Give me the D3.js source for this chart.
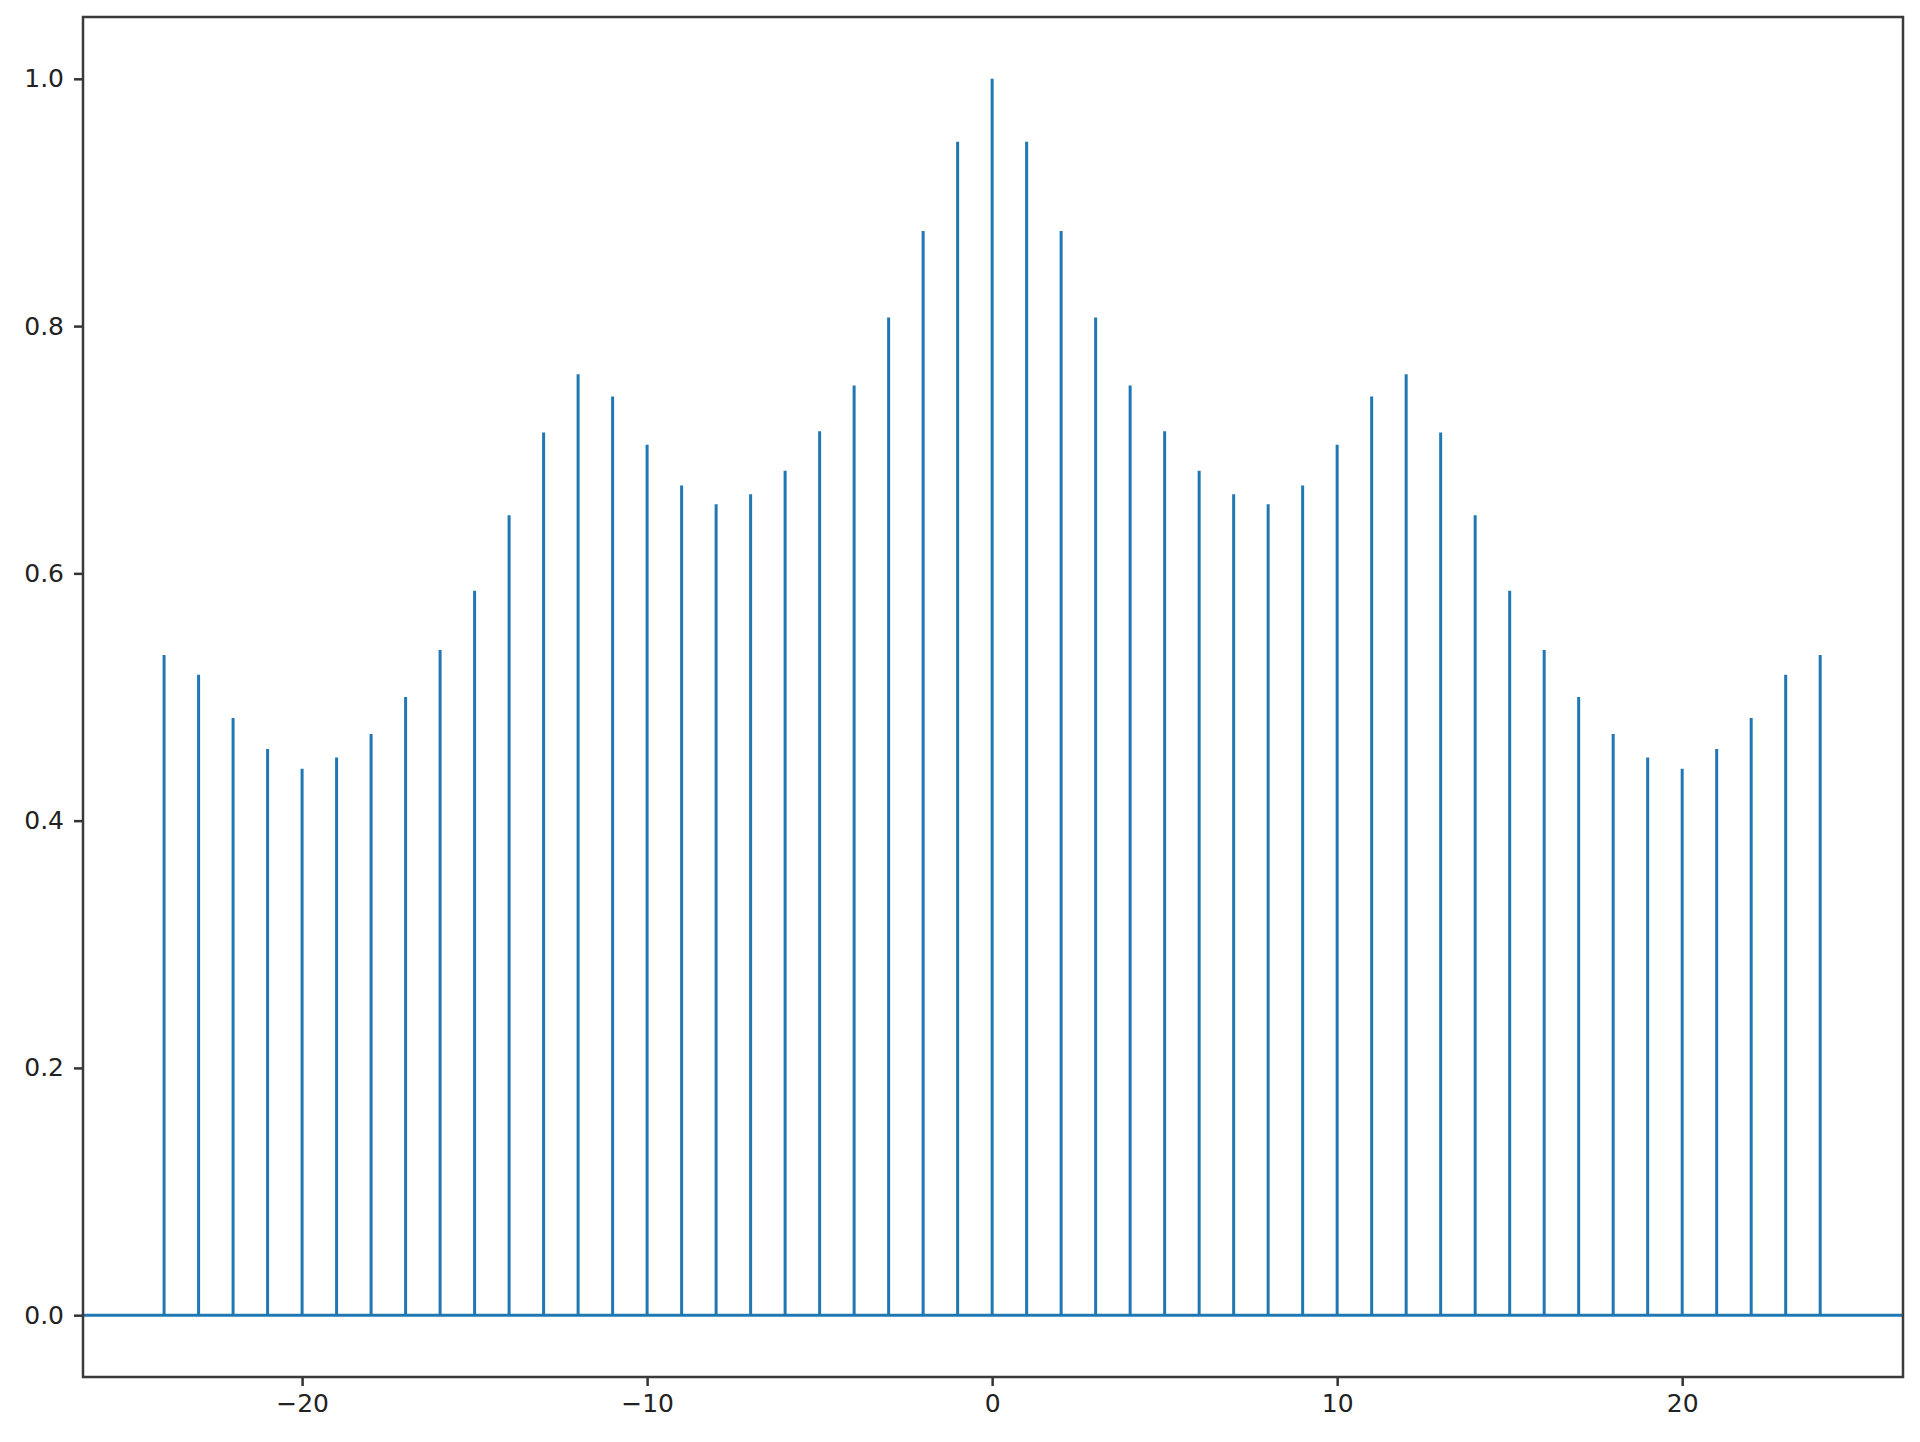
<!DOCTYPE html>
<html>
<head>
<meta charset="utf-8">
<script src="https://cdn.jsdelivr.net/npm/d3@7"></script>
<style>
  body { margin: 0; background: #fff; }
  .axis text { font-family: "DejaVu Sans", sans-serif; font-size: 25px; fill: #222; }
  .axis path { display: none; }
  .axis line { stroke: #333; stroke-width: 2.5; }
</style>
</head>
<body>
<div id="chart"></div>
<script>
var lags = [-24, -23, -22, -21, -20, -19, -18, -17, -16, -15, -14, -13, -12, -11, -10, -9, -8, -7, -6, -5, -4, -3, -2, -1,
  0, 1, 2, 3, 4, 5, 6, 7, 8, 9, 10, 11, 12, 13, 14, 15, 16, 17, 18, 19, 20, 21, 22, 23, 24];
var corr = [0.534, 0.518, 0.483, 0.458, 0.442, 0.451, 0.470, 0.500, 0.538, 0.586, 0.647, 0.714, 0.761, 0.743, 0.704, 0.671,
  0.656, 0.664, 0.683, 0.715, 0.752, 0.807, 0.877, 0.949,
  1.000,
  0.949, 0.877, 0.807, 0.752, 0.715, 0.683, 0.664, 0.656, 0.671, 0.704, 0.743, 0.761, 0.714, 0.647, 0.586,
  0.538, 0.500, 0.470, 0.451, 0.442, 0.458, 0.483, 0.518, 0.534];
var xTicks = [-20, -10, 0, 10, 20];
var yTicks = [0.0, 0.2, 0.4, 0.6, 0.8, 1.0];

var w = 1920, h = 1442;
var padLeft = 83, padRight = 1903, padTop = 17, padBottom = 1377;
var blue = "#1f77b4";

var svg = d3.select("#chart")
  .append("svg")
  .attr("width", w)
  .attr("height", h);

svg.append("rect")
  .attr("width", w)
  .attr("height", h)
  .attr("fill", "#fff");

var x = d3.scaleLinear()
  .domain([-26.35, 26.4])
  .range([padLeft, padRight]);

var y = d3.scaleLinear()
  .domain([-0.05, 1.05])
  .range([padBottom, padTop]);

// stems
svg.append("g")
  .selectAll("line")
  .data(lags)
  .enter()
  .append("line")
  .attr("x1", function(d) { return x(d); })
  .attr("x2", function(d) { return x(d); })
  .attr("y1", y(0))
  .attr("y2", function(d, i) { return y(corr[i]); })
  .attr("stroke", blue)
  .attr("stroke-width", 3);

// baseline at zero
svg.append("line")
  .attr("x1", padLeft)
  .attr("x2", padRight)
  .attr("y1", y(0))
  .attr("y2", y(0))
  .attr("stroke", blue)
  .attr("stroke-width", 3);

var xAxis = d3.axisBottom(x)
  .tickValues(xTicks)
  .tickSize(9)
  .tickPadding(8)
  .tickFormat(function(d) { return d < 0 ? "\u2212" + Math.abs(d) : d; });

var yAxis = d3.axisLeft(y)
  .tickValues(yTicks)
  .tickSize(9)
  .tickPadding(10)
  .tickFormat(d3.format(".1f"));

svg.append("g")
  .attr("class", "x axis")
  .attr("transform", "translate(0," + padBottom + ")")
  .call(xAxis);

svg.append("g")
  .attr("class", "y axis")
  .attr("transform", "translate(" + padLeft + ",0)")
  .call(yAxis);

// frame
svg.append("rect")
  .attr("x", padLeft)
  .attr("y", padTop)
  .attr("width", padRight - padLeft)
  .attr("height", padBottom - padTop)
  .attr("fill", "none")
  .attr("stroke", "#3a3a3a")
  .attr("stroke-width", 2.5);
</script>
</body>
</html>
